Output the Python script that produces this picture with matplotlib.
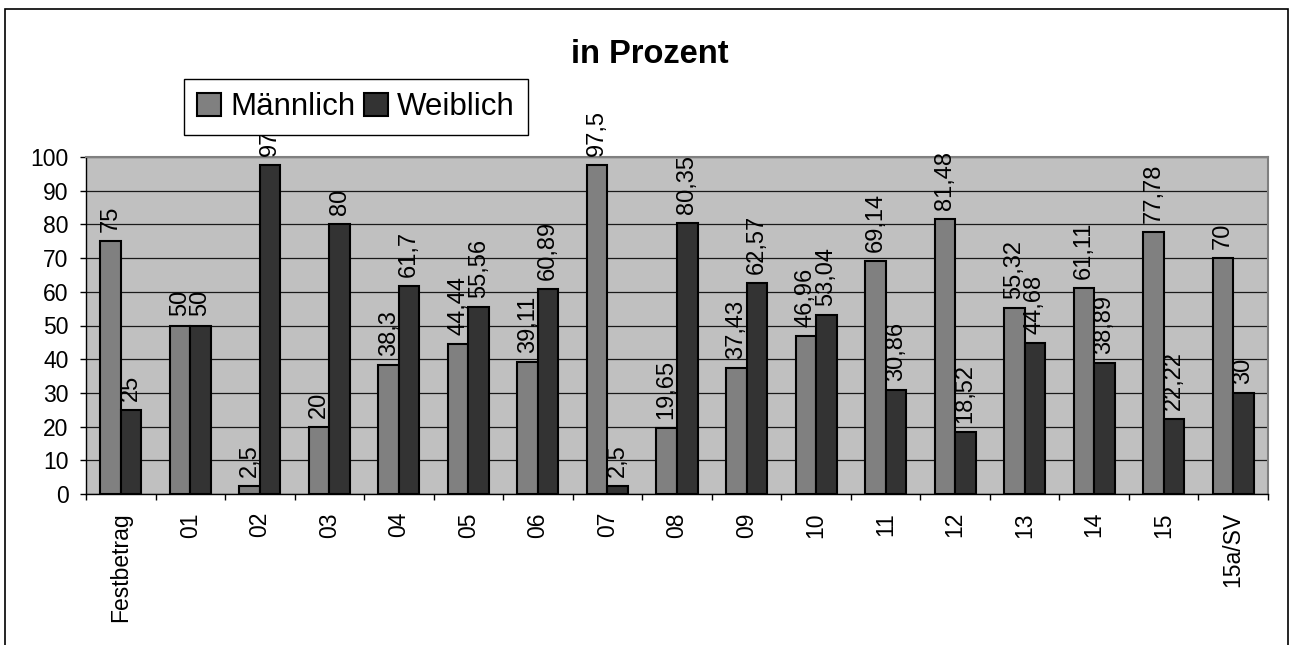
import numpy as np
import matplotlib
matplotlib.use("Agg")
import matplotlib.pyplot as plt
from matplotlib.patches import Rectangle

plt.rcParams['font.family'] = ['Liberation Sans', 'DejaVu Sans']

categories = ["Festbetrag", "01", "02", "03", "04", "05", "06", "07", "08",
              "09", "10", "11", "12", "13", "14", "15", "15a/SV"]
maennlich = [75, 50, 2.5, 20, 38.3, 44.44, 39.11, 97.5, 19.65,
             37.43, 46.96, 69.14, 81.48, 55.32, 61.11, 77.78, 70]
weiblich = [25, 50, 97.5, 80, 61.7, 55.56, 60.89, 2.5, 80.35,
            62.57, 53.04, 30.86, 18.52, 44.68, 38.89, 22.22, 30]
series_names = ["Männlich", "Weiblich"]
yticks = list(range(0, 101, 10))


def fmt(v):
    # german decimal comma
    return f"{v:g}".replace(".", ",")


W, H = 1291, 645
fig = plt.figure(figsize=(W / 100, H / 100), dpi=100)
ax = fig.add_axes([86 / W, 1 - 494 / H, (1268 - 86) / W, (494 - 157) / H])
ax.set_facecolor("#C0C0C0")

x = np.arange(len(categories))
w = 0.295
b1 = ax.bar(x - w / 2, maennlich, w, color="#808080", edgecolor="black",
            linewidth=1.5, zorder=3, label=series_names[0])
b2 = ax.bar(x + w / 2, weiblich, w, color="#333333", edgecolor="black",
            linewidth=1.5, zorder=3, label=series_names[1])

for bars, vals in ((b1, maennlich), (b2, weiblich)):
    for rect, v in zip(bars, vals):
        ax.annotate(fmt(v), (rect.get_x() + rect.get_width() / 2, v),
                    xytext=(0, 6.5), textcoords="offset points",
                    rotation=90, ha="center", va="bottom", fontsize=17,
                    zorder=4)

ax.set_xlim(-0.5, len(categories) - 0.5)
ax.set_ylim(0, 100)
ax.set_yticks(yticks)
ax.yaxis.grid(True, color="#1a1a1a", linewidth=0.9, zorder=1)
ax.set_axisbelow(True)

# labels in the middle, tick marks at the category borders
ax.set_xticks(x)
ax.set_xticklabels(categories, rotation=90, fontsize=16.5)
ax.set_xticks(np.arange(len(categories) + 1) - 0.5, minor=True)
ax.tick_params(axis="x", which="major", length=0, pad=13)
ax.tick_params(axis="x", which="minor", length=4.5, width=1, direction="out")
ax.tick_params(axis="y", length=4.5, width=1, direction="out", pad=8,
               labelsize=16.5)

for s in ("top", "right"):
    ax.spines[s].set_color("#808080")
    ax.spines[s].set_linewidth(1.5)
for s in ("left", "bottom"):
    ax.spines[s].set_color("black")
    ax.spines[s].set_linewidth(1)

fig.text(650 / W, 1 - 63 / H, "in Prozent", ha="center", va="baseline",
         fontsize=23.5, fontweight="bold")

# legend sits on top of the clipped "97,5" label, as in the original
leg = fig.legend(handles=[b1, b2], labels=series_names, loc="upper left",
                 bbox_to_anchor=(184 / W, 1 - 79 / H), ncol=2, fontsize=22.5,
                 frameon=True, fancybox=False, framealpha=1,
                 edgecolor="black", handlelength=0.75, handleheight=0.75,
                 handletextpad=0.3, columnspacing=0.3, borderpad=0.42,
                 borderaxespad=0)
leg.get_frame().set_linewidth(1)

# outer chart border
fig.patches.append(Rectangle((5 / W, -0.05), (1288 - 5) / W, 1.05 - 9 / H,
                             transform=fig.transFigure, fill=False,
                             edgecolor="black", linewidth=1.2))

fig.savefig("out.png", dpi=100)
